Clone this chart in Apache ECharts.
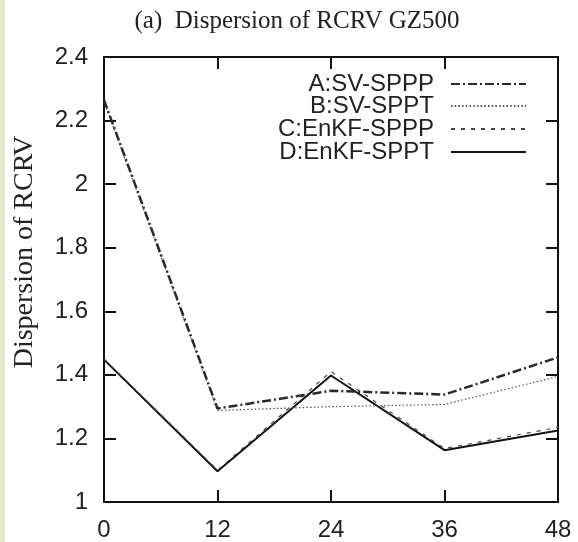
<!DOCTYPE html>
<html>
<head>
<meta charset="utf-8">
<script src="https://cdn.jsdelivr.net/npm/echarts@6/dist/echarts.min.js"></script>
<style>
html,body{margin:0;padding:0;background:#fff;}
#c{width:578px;height:542px;}
</style>
</head>
<body>
<div id="c"></div>
<script>
var hours = [0, 12, 24, 36, 48];
var xTicks = ['0', '12', '24', '36', '48'];
var seriesNames = ['A:SV-SPPP', 'B:SV-SPPT', 'C:EnKF-SPPP', 'D:EnKF-SPPT'];
var valsA = [2.265, 1.294, 1.35, 1.338, 1.455];
var valsB = [2.26, 1.288, 1.30, 1.307, 1.395];
var valsC = [1.45, 1.10, 1.41, 1.168, 1.235];
var valsD = [1.448, 1.097, 1.398, 1.163, 1.225];
var titleText = '(a)  Dispersion of RCRV GZ500';
var yName = 'Dispersion of RCRV';

function pairs(v){ return hours.map(function(h,i){ return [h, v[i]]; }); }

var styles = [
  {color:'#2a2a2a', width:2.5, type:[9,3,2,3]},
  {color:'#555', width:1.2, type:[1.5,2.2]},
  {color:'#444', width:1.2, type:[4,6]},
  {color:'#111', width:2, type:'solid'}
];
var allVals = [valsA, valsB, valsC, valsD];
var legendTops = [82, 104, 127, 150];

function tick(){ return {show:true, inside:true, length:12, lineStyle:{color:'#111', width:2}}; }
function line(){ return {show:true, onZero:false, lineStyle:{color:'#111', width:2}}; }

var chart = echarts.init(document.getElementById('c'), null, {renderer:'canvas'});
var option = {
  backgroundColor:'#fff',
  animation:false,
  title:{
    text:titleText, left:292, top:4, textAlign:'center',
    textStyle:{fontFamily:'Liberation Serif', fontSize:25, fontWeight:'normal', color:'#222'}
  },
  graphic:[
    {type:'rect', shape:{x:0, y:0, width:5, height:542}, style:{fill:'#e2e8cc'}, silent:true},
    {type:'text', x:11, y:252, rotation:Math.PI/2,
     style:{text:yName, font:'28px "Liberation Serif"', fill:'#222', textAlign:'center', textVerticalAlign:'top'}}
  ],
  legend: seriesNames.map(function(n,i){
    return {
      data:[n], right:51, top:legendTops[i]-10, orient:'vertical', align:'right', padding:0,
      itemWidth:75, itemHeight:20, selectedMode:false,
      itemStyle:{opacity:0, color:'transparent', borderWidth:0},
      textStyle:{fontFamily:'Liberation Sans', fontSize:24, color:'#222', padding:[0,12,0,0]}
    };
  }),
  grid:{left:104, right:20, top:57, bottom:38, show:false},
  xAxis:[
    {type:'value', min:0, max:48, interval:12, position:'bottom',
     axisLine:line(), axisTick:tick(), splitLine:{show:false},
     axisLabel:{margin:16, fontFamily:'Liberation Sans', fontSize:24, color:'#222',
       formatter:function(v){ var i = hours.indexOf(v); return i>=0 ? xTicks[i] : ''; }}},
    {type:'value', min:0, max:48, interval:12, position:'top',
     axisLine:line(), axisTick:tick(), splitLine:{show:false}, axisLabel:{show:false}}
  ],
  yAxis:[
    {type:'value', min:1, max:2.4, interval:0.2, position:'left',
     axisLine:line(), axisTick:tick(), splitLine:{show:false},
     axisLabel:{margin:16, fontFamily:'Liberation Sans', fontSize:24, color:'#222'}},
    {type:'value', min:1, max:2.4, interval:0.2, position:'right',
     axisLine:line(), axisTick:tick(), splitLine:{show:false}, axisLabel:{show:false}}
  ],
  series: seriesNames.map(function(n,i){
    return {
      name:n, type:'line', xAxisIndex:0, yAxisIndex:0, data:pairs(allVals[i]),
      symbol:'none', showSymbol:false,
      itemStyle:{color:styles[i].color},
      lineStyle:{color:styles[i].color, width:styles[i].width, type:styles[i].type},
      z:10-i
    };
  })
};
chart.setOption(option);
</script>
</body>
</html>
